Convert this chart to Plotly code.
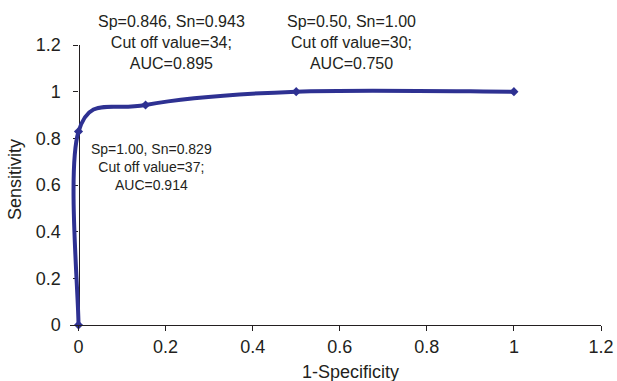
import plotly.graph_objects as go

# Data (ROC points)
fpr = [0.0, 0.0, 0.154, 0.5, 1.0]          # 1-Specificity
tpr = [0.0, 0.829, 0.943, 1.0, 1.0]        # Sensitivity
tick_vals = [0, 0.2, 0.4, 0.6, 0.8, 1.0, 1.2]
tick_text = ["0", "0.2", "0.4", "0.6", "0.8", "1", "1.2"]
notes = [
    "Sp=0.846, Sn=0.943<br>Cut off value=34;<br>AUC=0.895",
    "Sp=0.50, Sn=1.00<br>Cut off value=30;<br>AUC=0.750",
    "Sp=1.00, Sn=0.829<br>Cut off value=37;<br>AUC=0.914",
]

W, H = 617, 381
X0, X12 = 78.5, 601          # pixel of x=0 and x=1.2
L = 70                        # left edge of plotting area (a little left of x=0)
R = W - X12
T, B = 45, 56
PW, PH = W - L - R, H - T - B
xscale = (X12 - X0) / 1.2
xmin = -(X0 - L) / xscale
ypos = (X0 - L) / PW           # paper position of the y axis (x=0)

def px(x):
    return (x - L) / PW

def py(y):
    return (H - B - y) / PH

col = "#2E3192"
fig = go.Figure()

# Smoothed line (Excel-style Catmull-Rom Bezier) drawn in data coordinates
pts = list(zip(fpr, tpr))
n = len(pts)
path = f"M {pts[0][0]},{pts[0][1]}"
for i in range(n - 1):
    p0 = pts[max(i - 1, 0)]
    p1 = pts[i]
    p2 = pts[i + 1]
    p3 = pts[min(i + 2, n - 1)]
    c1 = (p1[0] + (p2[0] - p0[0]) / 6, p1[1] + (p2[1] - p0[1]) / 6)
    c2 = (p2[0] - (p3[0] - p1[0]) / 6, p2[1] - (p3[1] - p1[1]) / 6)
    path += f" C {c1[0]},{c1[1]} {c2[0]},{c2[1]} {p2[0]},{p2[1]}"
fig.add_shape(type="path", path=path, xref="x", yref="y",
              line=dict(color=col, width=4), layer="above")

fig.add_trace(go.Scatter(
    x=fpr, y=tpr, mode="markers",
    marker=dict(symbol="diamond", size=7, color=col),
    cliponaxis=False, showlegend=False,
))

font_family = "Liberation Sans, Arial, sans-serif"
txt = "#231F20"
common = dict(
    showline=True, linecolor="#231F20", linewidth=1.2,
    ticks="outside", ticklen=5, tickcolor="#231F20", tickwidth=1.2,
    tickvals=tick_vals, ticktext=tick_text,
    showgrid=False, zeroline=False, automargin=False,
    tickfont=dict(family=font_family, size=18, color=txt),
)
fig.update_layout(
    width=W, height=H, autosize=False,
    margin=dict(l=L, r=R, t=T, b=B, autoexpand=False),
    paper_bgcolor="white", plot_bgcolor="white",
    xaxis=dict(**common, range=[xmin, 1.2]),
    yaxis=dict(**common, range=[0, 1.2], anchor="free", position=ypos,
               ticklabelstandoff=9),
)

anns = [
    dict(text=notes[0], x=px(171), y=py(42), size=16),
    dict(text=notes[1], x=px(351), y=py(42), size=16),
    dict(text=notes[2], x=px(151), y=py(167), size=14),
]
for a in anns:
    fig.add_annotation(text=a["text"], x=a["x"], y=a["y"], xref="paper", yref="paper",
                       showarrow=False, xanchor="center", yanchor="middle", align="center",
                       font=dict(family=font_family, size=a["size"], color=txt))

fig.add_annotation(text="1-Specificity", x=px(350), y=py(372), xref="paper", yref="paper",
                   showarrow=False, xanchor="center", yanchor="middle",
                   font=dict(family=font_family, size=18, color=txt))
fig.add_annotation(text="Sensitivity", x=px(15), y=py(180), xref="paper", yref="paper",
                   showarrow=False, xanchor="center", yanchor="middle", textangle=-90,
                   font=dict(family=font_family, size=18, color=txt))

fig.write_html("out.html")
